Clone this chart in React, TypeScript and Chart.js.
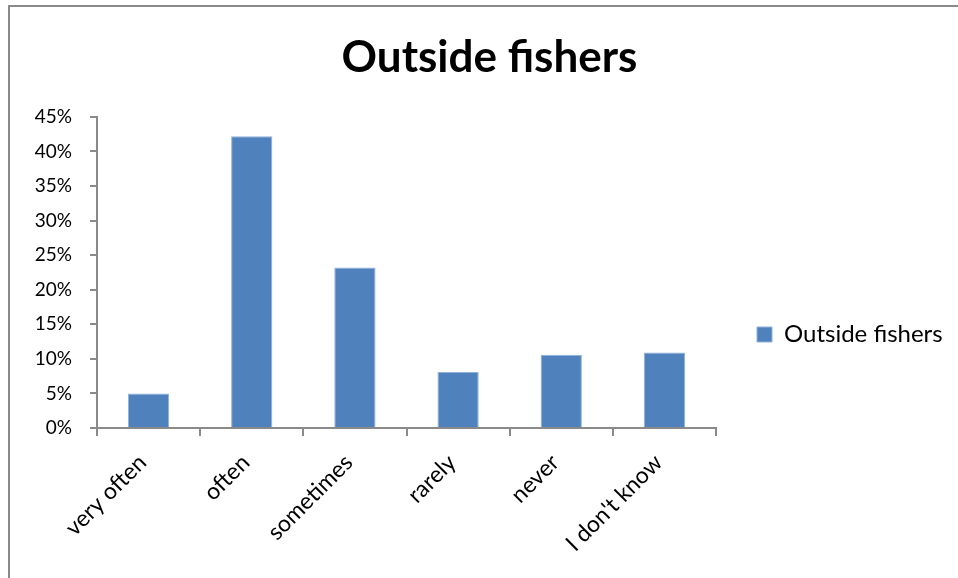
import React, { useEffect, useRef } from "react";
import { Chart, registerables } from "chart.js";

Chart.register(...registerables);

// Survey answers and the share of outside fishers giving each one (%)
const categories = ["very often", "often", "sometimes", "rarely", "never", "I don't know"];
const shares = [5.0, 42.2, 23.2, 8.1, 10.6, 10.9];
const seriesName = "Outside fishers";
const yTickValues = [0, 5, 10, 15, 20, 25, 30, 35, 40, 45];

const FONT = "Lato, 'Open Sans', sans-serif";
const AXIS_GREY = "#8a8a8a";
const BAR_BLUE = "#4F81BD";

const W = 958;
const H = 578;

const TITLE_SIZE = 44;
const TICK_SIZE = 19;
const XLABEL_SIZE = 23;
const LEGEND_SIZE = 24;

// plot box edges in canvas pixels
const PLOT_LEFT = 97;
const PLOT_RIGHT = 716;
const PLOT_BOTTOM = 428;
const LEFT_PAD = 21;
const SWATCH_X = 757;

// Chart.js caps a side legend at a quarter of the canvas; let it take the
// full strip to the right of the plot instead
const legendStrip = {
  id: "legendStrip",
  beforeLayout(chart: any) {
    const lg = chart.legend;
    if (!lg || lg.__stripped) return;
    const fit = lg.fit.bind(lg);
    lg.fit = () => {
      fit();
      lg.width = W - PLOT_RIGHT;
    };
    lg.__stripped = true;
  },
};

export default function App() {
  const canvasRef = useRef<HTMLCanvasElement | null>(null);

  useEffect(() => {
    const canvas = canvasRef.current;
    if (!canvas) return;
    let chart: Chart | null = null;
    let cancelled = false;

    const build = () => {
      if (cancelled) return;
      // the legend's inner padding opens the gap between plot and swatch
      const legendPad = SWATCH_X - PLOT_RIGHT;

      chart = new Chart(canvas, {
        type: "bar",
        data: {
          labels: categories,
          datasets: [
            {
              label: seriesName,
              data: shares,
              backgroundColor: BAR_BLUE,
              borderColor: "#8fb0d9",
              borderWidth: 1,
              barPercentage: 0.4,
              categoryPercentage: 1,
            },
          ],
        },
        plugins: [legendStrip],
        options: {
          animation: false,
          responsive: false,
          maintainAspectRatio: false,
          layout: { padding: { left: LEFT_PAD, right: 0, top: 0, bottom: 0 } },
          plugins: {
            title: {
              display: true,
              text: seriesName,
              color: "#000",
              font: { family: FONT, size: TITLE_SIZE, weight: "bold", lineHeight: 1.2 },
              padding: { top: 31, bottom: 33 },
            },
            legend: {
              display: true,
              position: "right",
              align: "center",
              title: {
                display: true,
                text: "",
                font: { size: 10, lineHeight: 1 },
                padding: { top: 0, bottom: 81 },
              },
              labels: {
                color: "#000",
                font: { family: FONT, size: LEGEND_SIZE },
                boxWidth: 15,
                boxHeight: 15,
                padding: legendPad,
              },
            },
            tooltip: { enabled: false },
          },
          scales: {
            x: {
              grid: {
                display: true,
                offset: true,
                drawOnChartArea: false,
                drawTicks: true,
                tickLength: 8,
                color: AXIS_GREY,
                lineWidth: 2,
              },
              border: { display: true, color: AXIS_GREY, width: 2 },
              ticks: {
                color: "#000",
                font: { family: FONT, size: XLABEL_SIZE },
                minRotation: 45,
                maxRotation: 45,
                padding: 13,
                labelOffset: -6,
              },
              afterFit: (s: any) => {
                s.height = H - PLOT_BOTTOM;
              },
            },
            y: {
              min: 0,
              max: 45,
              afterBuildTicks: (s: any) => {
                s.ticks = yTickValues.map((v) => ({ value: v }));
              },
              grid: {
                display: true,
                drawOnChartArea: false,
                drawTicks: true,
                tickLength: 7,
                color: AXIS_GREY,
                lineWidth: 2,
              },
              border: { display: true, color: AXIS_GREY, width: 2 },
              ticks: {
                color: "#000",
                font: { family: FONT, size: TICK_SIZE },
                padding: 18,
                callback: (v: any) => `${v}%`,
              },
              afterFit: (s: any) => {
                s.width = PLOT_LEFT - LEFT_PAD;
              },
            },
          },
        },
      });
    };

    const specs = [
      `bold ${TITLE_SIZE}px Lato`,
      `${TICK_SIZE}px Lato`,
      `${XLABEL_SIZE}px Lato`,
      `${LEGEND_SIZE}px Lato`,
    ];
    Promise.all(specs.map((f) => document.fonts.load(f)))
      .catch(() => undefined)
      .then(build);

    return () => {
      cancelled = true;
      if (chart) chart.destroy();
    };
  }, []);

  return (
    <div style={{ position: "fixed", left: 0, top: 0, width: W, height: H, background: "#fff" }}>
      <div
        style={{
          position: "absolute",
          left: 8,
          top: 5,
          right: 0,
          bottom: 0,
          borderLeft: `2px solid ${AXIS_GREY}`,
          borderTop: `2px solid ${AXIS_GREY}`,
        }}
      />
      <canvas
        ref={canvasRef}
        width={W}
        height={H}
        style={{ position: "absolute", left: 0, top: 0, width: W, height: H }}
      />
    </div>
  );
}
